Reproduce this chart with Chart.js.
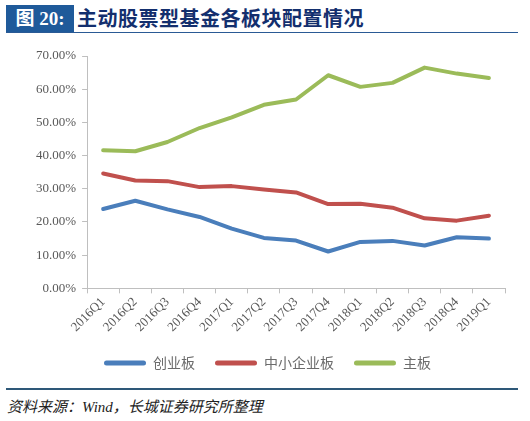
<!DOCTYPE html>
<html>
<head>
<meta charset="utf-8">
<script src="https://cdn.jsdelivr.net/npm/chart.js@4"></script>
<style>
  body { margin: 0; width: 530px; height: 421px; background: #fff; position: relative; overflow: hidden; }
  #title-box { position: absolute; left: 6px; top: 5px; width: 68px; height: 28px; background: #1f5a9a;
    color: #fff; font: bold 19px "Liberation Serif", "Noto Sans CJK SC", serif; line-height: 28px; text-align: center; }
  #title-text { position: absolute; left: 77px; top: 3px; color: #132f6e;
    font: bold 20px "Noto Sans CJK SC", sans-serif; line-height: 30px; letter-spacing: 0.5px; }
  #title-line { position: absolute; left: 6px; top: 32px; width: 512px; height: 1px; background: #2a5a95; }
  #chart-wrap { position: absolute; left: 0; top: 40px; width: 530px; height: 340px; }
  #foot-line { position: absolute; left: 6px; top: 388px; width: 512px; height: 2px; background: #2e5878; }
  #source { position: absolute; left: 7px; top: 396px; color: #222;
    font: italic 15px "Liberation Serif", "Noto Sans CJK SC", serif; line-height: 22px; }
</style>
</head>
<body>
<div id="title-box">图 20:</div>
<div id="title-text">主动股票型基金各板块配置情况</div>
<div id="title-line"></div>
<div id="chart-wrap"><canvas id="myChart1"></canvas></div>
<div id="foot-line"></div>
<div id="source">资料来源：Wind，长城证券研究所整理</div>
<script>
// quarters and board allocation (%)
const quarters = ["2016Q1", "2016Q2", "2016Q3", "2016Q4", "2017Q1", "2017Q2", "2017Q3",
  "2017Q4", "2018Q1", "2018Q2", "2018Q3", "2018Q4", "2019Q1"];
const chinext = [23.9, 26.4, 23.8, 21.5, 18.0, 15.2, 14.4, 11.1, 14.0, 14.3, 12.9, 15.4, 15.0];
const smeBoard = [34.6, 32.5, 32.3, 30.5, 30.8, 29.8, 28.9, 25.4, 25.5, 24.3, 21.1, 20.4, 21.9];
const mainBoard = [41.6, 41.3, 44.1, 48.3, 51.5, 55.3, 56.9, 64.2, 60.7, 61.9, 66.5, 64.7, 63.4];
const yTicks = [0, 10, 20, 30, 40, 50, 60, 70];

function line(label, data, color) {
  return {
    label: label,
    data: data,
    borderColor: color,
    backgroundColor: color,
    borderWidth: 4,
    pointRadius: 0,
    tension: 0,
    borderCapStyle: "round",
    borderJoinStyle: "round",
  };
}

const tickFont = { family: "'Liberation Serif', serif", size: 13 };

new Chart(document.getElementById("myChart1"), {
  type: "line",
  data: {
    labels: quarters,
    datasets: [
      line("创业板", chinext, "#4a7ebb"),
      line("中小企业板", smeBoard, "#c0504d"),
      line("主板", mainBoard, "#9bbb59"),
    ],
  },
  options: {
    responsive: true,
    maintainAspectRatio: false,
    animation: false,
    layout: { padding: { left: 30, right: 25, top: 16, bottom: 0 } },
    plugins: {
      tooltip: { enabled: false },
      legend: {
        position: "bottom",
        labels: {
          boxWidth: 42,
          boxHeight: 5,
          padding: 20,
          useBorderRadius: true,
          borderRadius: 2.5,
          color: "#6b6b6b",
          font: { family: "'Noto Sans CJK SC', sans-serif", size: 14 },
          generateLabels: function (chart) {
            return chart.data.datasets.map(function (ds, i) {
              return {
                text: ds.label,
                fillStyle: ds.borderColor,
                strokeStyle: ds.borderColor,
                lineWidth: 0,
                borderRadius: 2.5,
                datasetIndex: i,
                fontColor: "#6b6b6b",
              };
            });
          },
        },
      },
    },
    scales: {
      x: {
        offset: true,
        grid: { display: true, offset: true, drawOnChartArea: false, drawTicks: true, tickLength: 5, color: "#bfbfbf" },
        border: { color: "#bfbfbf", width: 1 },
        ticks: { color: "#595959", font: tickFont, minRotation: 45, maxRotation: 45, autoSkip: false, padding: 1 },
      },
      y: {
        min: 0,
        max: 70,
        afterBuildTicks: function (axis) {
          axis.ticks = yTicks.map(function (v) { return { value: v }; });
        },
        grid: { display: true, drawOnChartArea: false, drawTicks: true, tickLength: 5, color: "#bfbfbf" },
        border: { color: "#bfbfbf", width: 1 },
        ticks: {
          color: "#595959",
          font: tickFont,
          padding: 6,
          callback: function (v) { return v.toFixed(2) + "%"; },
        },
      },
    },
  },
});
</script>
</body>
</html>
